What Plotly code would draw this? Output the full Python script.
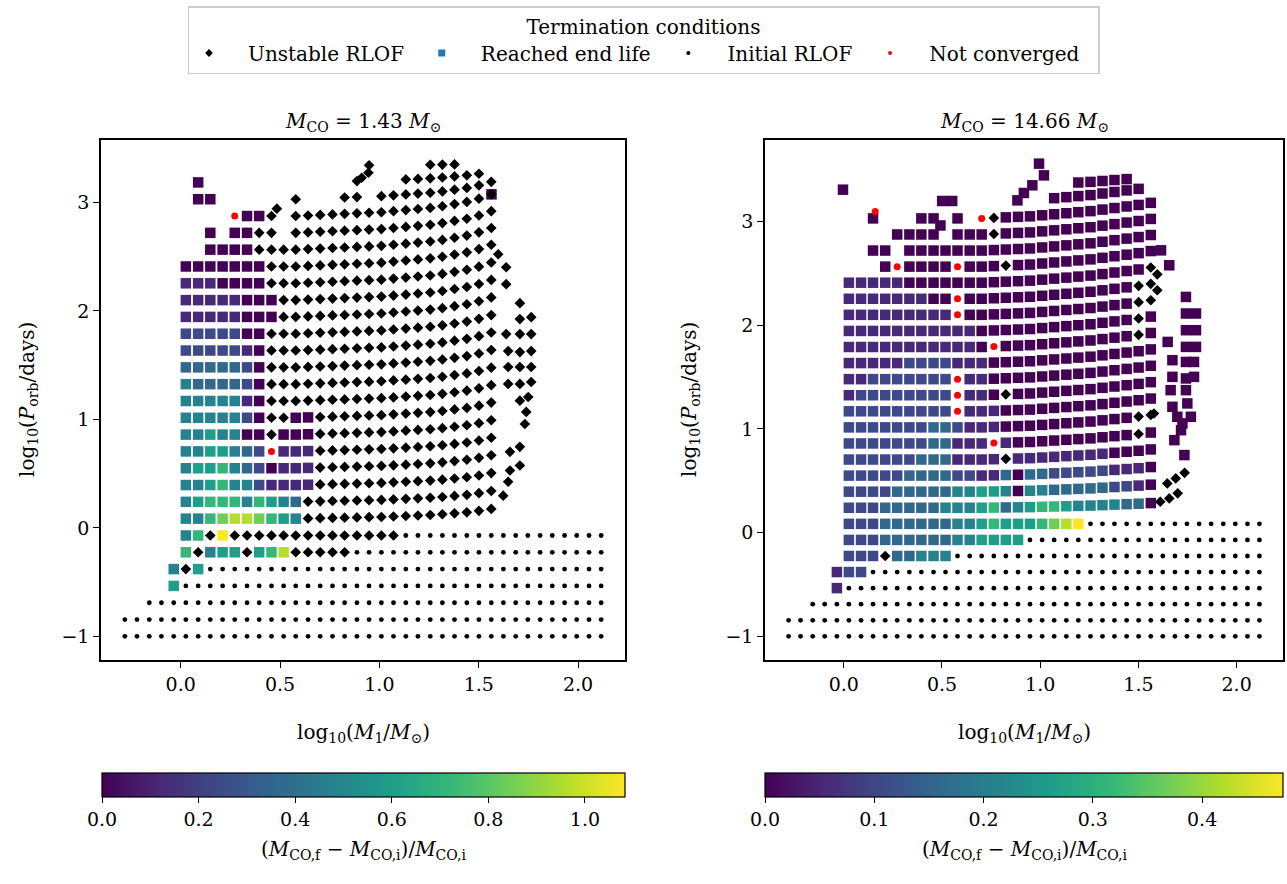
import plotly.graph_objects as go

# ---------------- data ----------------
# grid of log10(M1/Msun) columns and log10(P_orb/days) rows (same grid in both panels)
X_GRID = [-0.281, -0.220, -0.158, -0.097, -0.035, 0.026, 0.088, 0.149, 0.211, 0.272,
          0.334, 0.395, 0.457, 0.518, 0.579, 0.641, 0.702, 0.764, 0.825, 0.887,
          0.948, 1.010, 1.071, 1.133, 1.194, 1.256, 1.317, 1.378, 1.440, 1.501,
          1.563, 1.624, 1.686, 1.747, 1.809, 1.870, 1.932, 1.993, 2.055, 2.116]
Y_GRID = [-1.0, -0.845, -0.69, -0.535, -0.38, -0.225, -0.07, 0.085, 0.24, 0.395,
          0.55, 0.705, 0.86, 1.015, 1.17, 1.325, 1.48, 1.635, 1.79, 1.945,
          2.1, 2.255, 2.41, 2.565, 2.72, 2.875, 3.03, 3.185, 3.34, 3.495]

# cell codes: '.' none, 'o' initial RLOF, 'd' unstable RLOF, 'x' not converged,
# digit k = reached end of life with colour value k/9 of the colourbar maximum
LEFT_ROWS = [  # bottom row first
    "o" * 40,
    "o" * 40,
    ".." + "o" * 38,
    "...." + "5" + "o" * 35,
    "...." + "4d5" + "o" * 33,
    "....." + "6d455d568" + "ddddd" + "o" * 21,
    "....." + "46d9" + "d" * 14 + "o" * 17,
    "....." + "4467887654" + "d" * 16 + "." * 9,
    "....." + "4566646543" + "d" * 16 + "." * 9,
    "....." + "44564421111" + "d" * 15 + "." * 9,
    "....." + "45564320111" + "d" * 15 + "." * 9,
    "....." + "4455432x111" + "d" * 15 + "." * 9,
    "....." + "4454400d000" + "d" * 15 + "." * 9,
    "....." + "4444420dd00" + "d" * 15 + "." * 9,
    "....." + "4444410" + "d" * 19 + "." * 9,
    "....." + "4333320" + "d" * 19 + "." * 9,
    "....." + "3333320" + "d" * 19 + "." * 9,
    "....." + "2222210" + "d" * 19 + "." * 9,
    "....." + "2222200" + "d" * 19 + "." * 9,
    "....." + "11111000" + "d" * 18 + "." * 9,
    "....." + "11111000" + "d" * 18 + "." * 9,
    "....." + "1110000" + "d" * 19 + "." * 9,
    "....." + "0000000" + "d" * 19 + "." * 9,
    "......." + "0000" + "d" * 20 + "." * 9,
    "......." + "0.00" + "dd." + "d" * 17 + "." * 9,
    "........." + "x00d." + "d" * 17 + "." * 9,
    "......00......d...dd.dddddddddd.........",
    "......0............d...ddddddd..........",
    "." * 20 + "d" + "...." + "ddd" + "." * 12,
    "." * 40,
]
LEFT_COL_LIFT = [0] * 15 + [0.005, 0.01, 0.015, 0.02, 0.025, 0.03, 0.035, 0.045, 0.055,
                            0.065, 0.075, 0.09, 0.11, 0.13, 0.16, 0.2] + [0] * 9
LEFT_ROW_WEIGHT = [0, 0, 0, 0, 0, 0, 0, 0.45, 0.5, 0.55, 0.6, 0.63, 0.66, 0.7, 0.73,
                   0.76, 0.8, 0.83, 0.86, 0.9, 0.93, 0.96, 1, 1, 1, 1, 0.8, 0.5, 0.1, 0]
LEFT_EXTRA = [  # (log M1, log P, code) points off the regular grid
    (0.484, 2.943, "d"), (0.911, 3.228, "d"), (0.945, 3.274, "d"), (1.564, 3.075, "0"),
    (1.598, 2.523, "d"), (1.638, 2.403, "d"), (1.638, 2.247, "d"), (1.707, 2.072, "d"),
    (1.764, 1.943, "d"), (1.707, 1.925, "d"), (1.764, 1.787, "d"), (1.707, 1.787, "d"),
    (1.638, 1.787, "d"), (1.764, 1.630, "d"), (1.707, 1.621, "d"), (1.648, 1.630, "d"),
    (1.764, 1.483, "d"), (1.707, 1.483, "d"), (1.648, 1.483, "d"), (1.764, 1.345, "d"),
    (1.707, 1.327, "d"), (1.648, 1.327, "d"), (1.749, 1.207, "d"), (1.707, 1.173, "d"),
    (1.739, 1.069, "d"), (1.732, 0.958, "d"), (1.707, 0.747, "d"), (1.657, 0.701, "d"),
    (1.707, 0.575, "d"), (1.657, 0.529, "d"), (1.648, 0.425, "d"), (1.623, 0.297, "d"),
]
LEFT_VMAX = 1.083
LEFT_CB_TICKS = [0.0, 0.2, 0.4, 0.6, 0.8, 1.0]

RIGHT_ROWS = [
    "o" * 40,
    "o" * 40,
    ".." + "o" * 38,
    "...." + "1" + "o" * 35,
    "...." + "122" + "o" * 33,
    "....." + "222d33444" + "o" * 26,
    "....." + "222333333445555" + "o" * 20,
    "....." + "222333333" + "4456" + "5556789" + "o" * 15,
    "....." + "222333334" + "4456" + "3456654444330" + "." * 9,
    "....." + "222233333" + "4455" + "4044333332210" + "." * 9,
    "....." + "222223333" + "2211" + "3033222221110" + "." * 9,
    "....." + "222222333" + "1111" + "d111111110000" + "." * 9,
    "....." + "222222233" + "111x" + "10000000000d0" + "." * 9,
    "....." + "222222233" + "2111" + "00000000000dd" + "." * 9,
    "....." + "222222222" + "x111" + "0000000000000" + "." * 9,
    "....." + "122222222" + "x110" + "d000000000000" + "." * 9,
    "....." + "112222222" + "x110" + "0000000000000" + "." * 9,
    "....." + "111112222" + "1110" + "0000000000000" + "." * 9,
    "....." + "111111111" + "110x" + "00000000000d0" + "." * 9,
    "....." + "111111111" + "1100" + "00000000000d0" + "." * 9,
    "....." + "111111111" + "x000" + "00000000000dd" + "." * 9,
    "....." + "111111100" + "x000" + "00000000000dd" + "." * 9,
    "....." + "111110000" + "0000" + "000000000000d" + "." * 9,
    "........" + "0x0000" + "x000" + "d000000000000" + "." * 9,
    "......." + "00.0000" + "0000" + "0000000000000" + "." * 9,
    "........." + "0000" + "." + "000d" + "0000000000000" + "." * 9,
    "......." + "0...00." + "0.xd" + "0000000000000" + "." * 9,
    "." * 22 + "00000000" + "." * 10,
    "." * 24 + "00000" + "." * 11,
    "." * 40,
]
RIGHT_COL_LIFT = [0] * 17 + [0.005, 0.01, 0.015, 0.02, 0.03, 0.04, 0.05, 0.06, 0.07,
                             0.085, 0.1, 0.115, 0.13, 0.15] + [0] * 9
RIGHT_ROW_WEIGHT = [0, 0, 0, 0, 0, 0, 0, 0, 0.3, 0.45, 0.55, 0.65, 0.7, 0.8, 0.82,
                    0.84, 0.86, 0.88, 0.9, 0.92, 0.94, 0.96, 0.98, 1, 1, 1, 1, 1, 0.6, 0]
RIGHT_EXTRA = [
    (-0.004, 3.307, "0"), (0.160, 3.097, "x"), (0.501, 3.198, "0"), (0.552, 3.198, "0"),
    (0.492, 2.962, "0"), (0.884, 3.204, "0"), (0.917, 3.275, "0"), (0.960, 3.349, "0"),
    (0.994, 3.558, "0"), (1.019, 3.445, "0"),
    (1.615, 2.722, "0"), (1.657, 2.578, "0"), (1.742, 2.273, "0"), (1.742, 2.113, "0"),
    (1.793, 2.113, "0"), (1.742, 1.952, "0"), (1.793, 1.952, "0"), (1.649, 1.839, "0"),
    (1.742, 1.791, "0"), (1.793, 1.791, "0"), (1.673, 1.663, "0"), (1.742, 1.646, "0"),
    (1.783, 1.646, "0"), (1.673, 1.502, "0"), (1.742, 1.487, "0"), (1.783, 1.502, "0"),
    (1.664, 1.374, "0"), (1.742, 1.374, "0"), (1.749, 1.246, "0"), (1.673, 1.213, "0"),
    (1.698, 1.117, "0"), (1.767, 1.117, "0"), (1.724, 1.053, "0"), (1.717, 0.988, "0"),
    (1.683, 0.892, "0"), (1.734, 0.748, "0"),
    (1.596, 2.491, "d"), (1.596, 2.337, "d"), (1.579, 1.149, "d"),
    (1.647, 0.475, "d"), (1.690, 0.523, "d"), (1.735, 0.577, "d"),
    (1.611, 0.298, "d"), (1.657, 0.330, "d"), (1.700, 0.379, "d"),
]
RIGHT_VMAX = 0.474
RIGHT_CB_TICKS = [0.0, 0.1, 0.2, 0.3, 0.4]

PANEL_TITLES = ["<i>M</i><sub>CO</sub> = 1.43 <i>M</i><sub>⊙</sub>",
                "<i>M</i><sub>CO</sub> = 14.66 <i>M</i><sub>⊙</sub>"]
LEGEND_NAMES = ["Unstable RLOF", "Reached end life", "Initial RLOF", "Not converged"]

# ---------------- figure ----------------
W, H = 1287, 884
FONT = "DejaVu Serif"
NB = "\u00a0"


def px(x):
    return x / W


def py(y):
    return 1 - y / H


def collect(rows, lift, weight, extras, vmax):
    pts = {"o": ([], []), "d": ([], []), "x": ([], [])}
    ex, ey, ev = [], [], []

    def add(x, y, ch):
        if ch.isdigit():
            ex.append(x); ey.append(y); ev.append(int(ch) / 9 * vmax)
        else:
            pts[ch][0].append(x); pts[ch][1].append(y)

    for r, row in enumerate(rows):
        assert len(row) == 40, (r, len(row))
        for c, ch in enumerate(row):
            if ch == ".":
                continue
            add(X_GRID[c], Y_GRID[r] + lift[c] * weight[r], ch)
    for x, y, ch in extras:
        add(x, y, ch)
    return pts, (ex, ey, ev)


fig = go.Figure()
panels = [
    (LEFT_ROWS, LEFT_COL_LIFT, LEFT_ROW_WEIGHT, LEFT_EXTRA, LEFT_VMAX, "x", "y", "coloraxis"),
    (RIGHT_ROWS, RIGHT_COL_LIFT, RIGHT_ROW_WEIGHT, RIGHT_EXTRA, RIGHT_VMAX, "x2", "y2", "coloraxis2"),
]
for rows, lift, weight, extras, vmax, xa, ya, cax in panels:
    pts, (ex, ey, ev) = collect(rows, lift, weight, extras, vmax)
    fig.add_trace(go.Scatter(x=pts["o"][0], y=pts["o"][1], mode="markers", xaxis=xa, yaxis=ya,
                             marker=dict(symbol="circle", size=4.8, color="black", line=dict(width=0)),
                             showlegend=False, hoverinfo="skip"))
    fig.add_trace(go.Scatter(x=ex, y=ey, mode="markers", xaxis=xa, yaxis=ya,
                             marker=dict(symbol="square", size=10.5, color=ev, coloraxis=cax,
                                         line=dict(width=0)),
                             showlegend=False, hoverinfo="skip"))
    fig.add_trace(go.Scatter(x=pts["d"][0], y=pts["d"][1], mode="markers", xaxis=xa, yaxis=ya,
                             marker=dict(symbol="diamond", size=8.2, color="black", line=dict(width=0)),
                             showlegend=False, hoverinfo="skip"))
    fig.add_trace(go.Scatter(x=pts["x"][0], y=pts["x"][1], mode="markers", xaxis=xa, yaxis=ya,
                             marker=dict(symbol="circle", size=7, color="red", line=dict(width=0)),
                             showlegend=False, hoverinfo="skip"))

# legend entries
leg_styles = [("diamond", 6, "black"), ("square", 7, "#1f77b4"), ("circle", 4, "black"), ("circle", 4, "red")]
for name, (sym, sz, col) in zip(LEGEND_NAMES, leg_styles):
    fig.add_trace(go.Scatter(x=[None], y=[None], mode="markers", name=NB * 3 + name + NB * 2,
                             marker=dict(symbol=sym, size=sz, color=col), showlegend=True))

axis_common = dict(showline=True, mirror=True, linecolor="black", linewidth=1.5, ticks="outside",
                   ticklen=6, tickwidth=1.2, tickcolor="black", showgrid=False, zeroline=False,
                   tickfont=dict(family=FONT, size=19, color="black"))

L_DOM_X = [px(101), px(625)]
R_DOM_X = [px(765), px(1283)]
DOM_Y = [py(660), py(140)]

fig.update_layout(
    width=W, height=H,
    paper_bgcolor="white", plot_bgcolor="white",
    margin=dict(l=0, r=0, t=0, b=0, autoexpand=False),
    xaxis=dict(domain=L_DOM_X, anchor="y", range=[-0.401, 2.236], tickvals=[0, 0.5, 1, 1.5, 2],
               ticktext=["0.0", "0.5", "1.0", "1.5", "2.0"], **axis_common),
    yaxis=dict(domain=DOM_Y, anchor="x", range=[-1.218, 3.576], tickvals=[-1, 0, 1, 2, 3], **axis_common),
    xaxis2=dict(domain=R_DOM_X, anchor="y2", range=[-0.401, 2.236], tickvals=[0, 0.5, 1, 1.5, 2],
                ticktext=["0.0", "0.5", "1.0", "1.5", "2.0"], **axis_common),
    yaxis2=dict(domain=DOM_Y, anchor="x2", range=[-1.228, 3.786], tickvals=[-1, 0, 1, 2, 3], **axis_common),
    legend=dict(orientation="h", x=0.5, xanchor="center", y=py(6), yanchor="top",
                bordercolor="#cccccc", borderwidth=1.5, bgcolor="white",
                font=dict(family=FONT, size=20, color="black"),
                title=dict(text="Termination conditions", side="top center",
                           font=dict(family=FONT, size=20, color="black"))),
    showlegend=True,
)

cb_common = dict(orientation="h", lenmode="fraction", thickness=24, thicknessmode="pixels",
                 xanchor="center", yanchor="top", xpad=0, ypad=0,
                 outlinewidth=1.2, outlinecolor="black", ticks="outside", ticklen=6,
                 tickcolor="black", tickfont=dict(family=FONT, size=19, color="black"))
fig.update_layout(
    coloraxis=dict(colorscale="Viridis", cmin=0, cmax=LEFT_VMAX,
                   colorbar=dict(x=px((102 + 625) / 2), len=(625 - 102) / W, y=py(773),
                                 tickvals=LEFT_CB_TICKS, ticktext=[f"{v:.1f}" for v in LEFT_CB_TICKS],
                                 **cb_common)),
    coloraxis2=dict(colorscale="Viridis", cmin=0, cmax=RIGHT_VMAX,
                    colorbar=dict(x=px((765 + 1283) / 2), len=(1283 - 765) / W, y=py(773),
                                  tickvals=RIGHT_CB_TICKS, ticktext=[f"{v:.1f}" for v in RIGHT_CB_TICKS],
                                  **cb_common)),
)

ann_font = dict(family=FONT, size=20, color="black")
CB_TITLE = "(<i>M</i><sub>CO,f</sub> − <i>M</i><sub>CO,i</sub>)/<i>M</i><sub>CO,i</sub>"
XT = "log<sub>10</sub>(<i>M</i><sub>1</sub>/<i>M</i><sub>⊙</sub>)"
YT = "log<sub>10</sub>(<i>P</i><sub>orb</sub>/days)"
anns = []
for cx, title in zip([363, 1024], PANEL_TITLES):
    anns.append(dict(x=px(cx), y=py(122), text=title, showarrow=False, xref="paper", yref="paper",
                     xanchor="center", yanchor="middle", font=ann_font))
    anns.append(dict(x=px(cx), y=py(733), text=XT, showarrow=False, xref="paper", yref="paper",
                     xanchor="center", yanchor="middle", font=ann_font))
    anns.append(dict(x=px(cx), y=py(850), text=CB_TITLE, showarrow=False, xref="paper", yref="paper",
                     xanchor="center", yanchor="middle", font=ann_font))
for cx in [28, 690]:
    anns.append(dict(x=px(cx), y=py(400), text=YT, showarrow=False, xref="paper", yref="paper",
                     xanchor="center", yanchor="middle", textangle=-90, font=ann_font))
fig.update_layout(annotations=anns)

fig.write_html("out.html", config={"displayModeBar": False},
               post_script="document.body.style.margin='0px';")
